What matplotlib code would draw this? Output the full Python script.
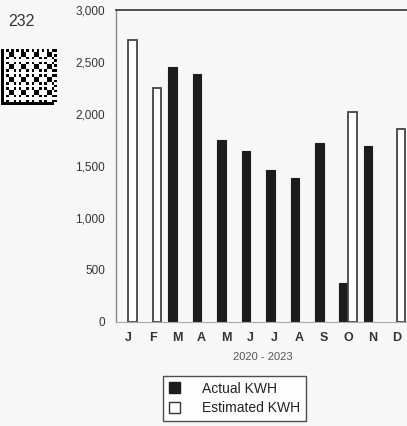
import numpy as np
import matplotlib
matplotlib.use("Agg")
import matplotlib.pyplot as plt
from matplotlib.patches import Patch

months = ["J", "F", "M", "A", "M", "J", "J", "A", "S", "O", "N", "D"]
actual_kwh = [0, 0, 2450, 2385, 1750, 1640, 1460, 1385, 1720, 375, 1690, 0]
estimated_kwh = [2710, 2250, 0, 0, 0, 0, 0, 0, 0, 2020, 0, 1855]
yticks = [0, 500, 1000, 1500, 2000, 2500, 3000]
ytick_labels = ["0", "500", "1,000", "1,500", "2,000", "2,500", "3,000"]
x_title = "2020 - 2023"
legend_labels = ["Actual KWH", "Estimated KWH"]
page_number = "232"

plt.rcParams['font.family'] = ['Liberation Sans', 'DejaVu Sans']
bg = "#f7f7f7"
fig = plt.figure(figsize=(4.07, 4.26), dpi=100, facecolor=bg)
ax = fig.add_axes([116/407, 1-322/426, 293/407, 312/426])
ax.set_facecolor(bg)

x = np.arange(len(months))
w = 0.35
act = np.array(actual_kwh, dtype=float)
est = np.array(estimated_kwh, dtype=float)
ma = act > 0
me = est > 0
ax.bar(x[ma] - w/2, act[ma], width=w, color="#1c1c1c", edgecolor="#1c1c1c", linewidth=0.8)
ax.bar(x[me] + w/2, est[me], width=w, color="white", edgecolor="#444444", linewidth=1.3)

ax.set_xlim(-0.5, 11.5)
ax.set_ylim(0, 3000)
ax.set_yticks(yticks)
ax.set_yticklabels(ytick_labels, fontsize=8.5, color="#333333")
ax.set_xticks(x)
ax.set_xticklabels(months, fontsize=9, color="#333333", fontweight="bold")
ax.tick_params(axis="both", length=0)
ax.tick_params(axis="y", pad=8)
ax.tick_params(axis="x", pad=7)
ax.set_xlabel(x_title, fontsize=8, color="#555555", labelpad=6)

ax.spines["right"].set_visible(False)
ax.spines["top"].set_color("#333333")
ax.spines["top"].set_linewidth(1.2)
ax.spines["left"].set_color("#888888")
ax.spines["left"].set_linewidth(1.0)
ax.spines["bottom"].set_color("#aaaaaa")
ax.spines["bottom"].set_linewidth(0.8)

handles = [Patch(facecolor="#1c1c1c", edgecolor="#1c1c1c"),
           Patch(facecolor="white", edgecolor="#333333")]
leg = fig.legend(handles, legend_labels, loc="upper left",
                 bbox_to_anchor=(163/407, 1-376/426), fontsize=10,
                 frameon=True, fancybox=False, borderpad=0.4,
                 handlelength=0.8, handleheight=0.8, handletextpad=1.6,
                 labelspacing=0.4, borderaxespad=0)
leg.get_frame().set_edgecolor("#222222")
leg.get_frame().set_linewidth(1.0)
leg.get_frame().set_facecolor("white")
for t in leg.get_texts():
    t.set_color("#222222")

fig.text(8/407, 1-22/426, page_number, fontsize=11.5, color="#333333",
         va="center", ha="left")

# decorative data-matrix style code (not chart data)
n = 22
ii, jj = np.mgrid[0:n, 0:n]
pattern = (((ii * 7 + jj * 13 + ii * jj * 3) % 5) < 2).astype(float)
pattern[:, 0] = 1
pattern[-1, :] = 1
pattern[0, ::2] = 1
pattern[0, 1::2] = 0
pattern[::2, -1] = 1
pattern[1::2, -1] = 0
cax = fig.add_axes([0/407, 1-105/426, 58/407, 56/426])
cax.imshow(1 - pattern, cmap="gray", interpolation="nearest", vmin=0, vmax=1)
cax.axis("off")

fig.savefig("out.png", dpi=100, facecolor=bg)
